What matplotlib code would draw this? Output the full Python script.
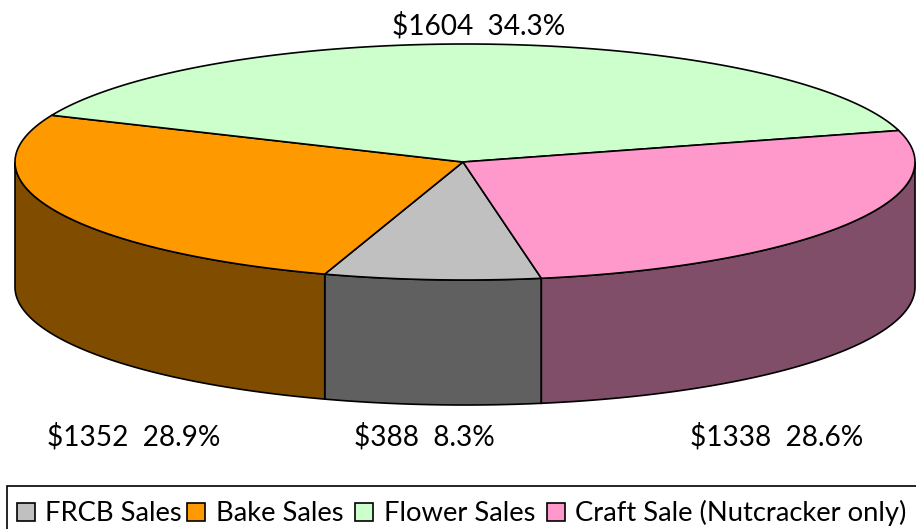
import numpy as np
import matplotlib
matplotlib.use("Agg")
import matplotlib.pyplot as plt
from matplotlib.patches import Polygon, Rectangle

plt.rcParams['font.family'] = ['Lato', 'DejaVu Sans']

categories = ["FRCB Sales", "Bake Sales", "Flower Sales", "Craft Sale (Nutcracker only)"]
sales = [388, 1352, 1604, 1338]
percents = ["8.3%", "28.9%", "34.3%", "28.6%"]
top_colors = ["#C0C0C0", "#FF9900", "#CCFFCC", "#FF99CC"]
side_colors = ["#606060", "#804D00", "#666666", "#804E68"]

# ellipse in pixels, y goes down
cx, cy = 465, 162
rx, ry = 450, 118
depth = 125
start = 12.0  # degrees from bottom, right side is positive


def rim(t):
    t = np.radians(t)
    # fake perspective, top slices look bigger than the front ones
    p = t - np.radians(3.5) * np.sin(t) - np.radians(4.5) * (1 - np.cos(t)) * np.sin(t)
    p = p - np.radians(1.5) * (1 + np.cos(t)) / 2
    return cx + rx * np.sin(p), cy + ry * np.cos(p)


fig = plt.figure(figsize=(9.16, 5.29), dpi=100)
ax = fig.add_axes([0, 0, 1, 1])
ax.set_xlim(0, 916)
ax.set_ylim(529, 0)
ax.axis("off")

# slice angles, FRCB first, going clockwise on screen
sweep = np.array(sales) / sum(sales) * 360
a0 = start - np.concatenate([[0], np.cumsum(sweep)[:-1]])
bounds = [(a0[i], a0[i] - sweep[i]) for i in range(4)]

# walls first, only the front half shows
for (b, e), col in zip(bounds, side_colors):
    x, y = rim(np.linspace(b, e, 400))
    keep = y >= cy
    x, y = x[keep], y[keep]
    if len(x) < 2:
        continue
    xs = np.concatenate([x, x[::-1]])
    ys = np.concatenate([y, y[::-1] + depth])
    ax.add_patch(Polygon(np.column_stack([xs, ys]), fc=col, ec="black", lw=1.2, zorder=1))

# top of the pie
for (b, e), col in zip(bounds, top_colors):
    x, y = rim(np.linspace(b, e, 200))
    pts = np.column_stack([np.r_[463, x], np.r_[162, y]])
    ax.add_patch(Polygon(pts, fc=col, ec="black", lw=1.2, zorder=2))

# labels
lab_x = [424, 134, 479, 777]
lab_y = [437, 437, 26, 437]
for i in range(4):
    ax.text(lab_x[i], lab_y[i], f"${sales[i]}  {percents[i]}", ha="center", va="center",
            fontsize=20.2, color="black")

# legend, box runs off the right and bottom of the picture
ax.add_patch(Rectangle((7, 486), 940, 60, fc="white", ec="black", lw=1.2, zorder=3))
key_x = [17, 187, 355, 547]
text_x = [45, 216, 384, 575]
for i in range(4):
    ax.add_patch(Rectangle((key_x[i], 503), 18, 18, fc=top_colors[i], ec="black", lw=1.2, zorder=4))
    ax.text(text_x[i], 521, categories[i], ha="left", va="baseline", fontsize=19.7, color="black", zorder=4)

fig.savefig("out.png", dpi=100)
